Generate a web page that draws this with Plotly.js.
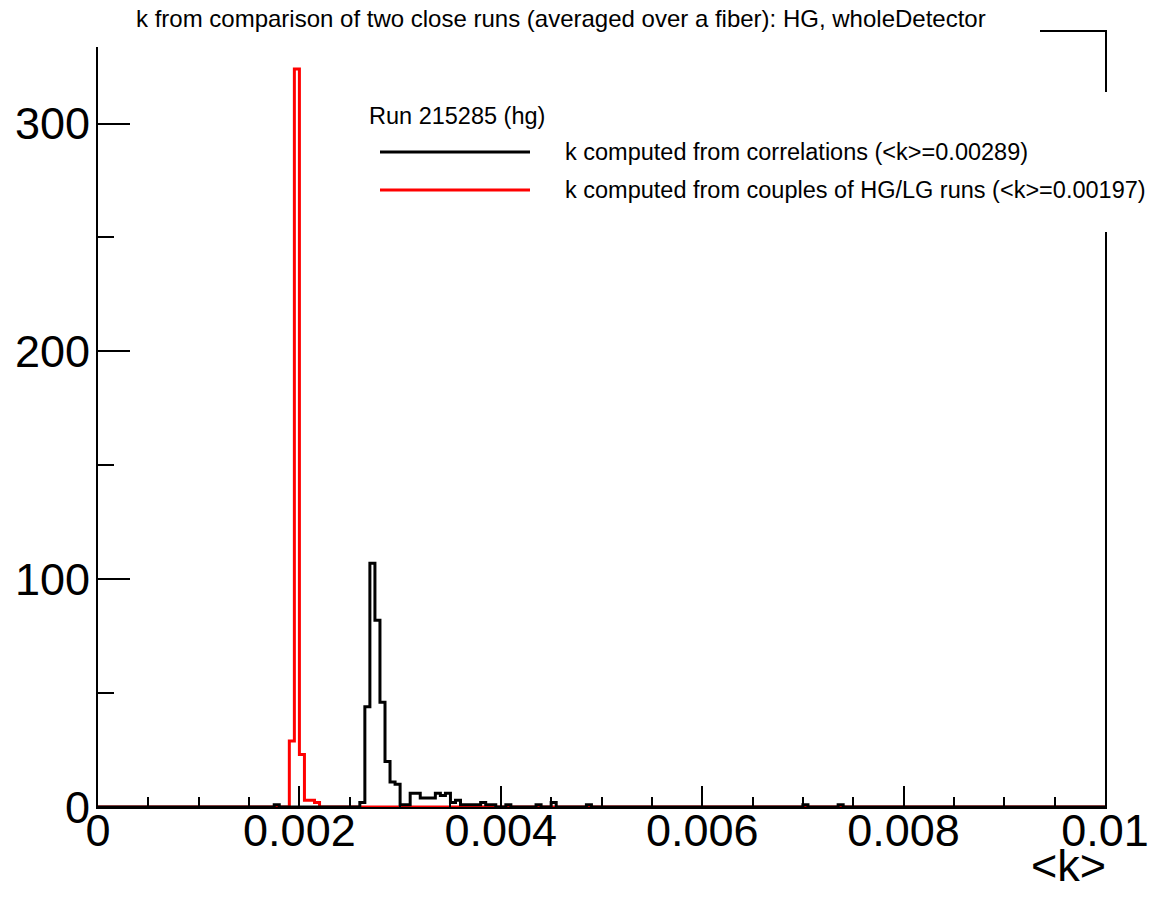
<!DOCTYPE html>
<html><head><meta charset="utf-8">
<script src="https://cdn.plot.ly/plotly-3.0.1.min.js"></script>
<style>html,body{margin:0;padding:0;background:#fff}#chart{width:1156px;height:905px}</style>
</head><body><div id="chart"></div>
<script>
// ---------------- data ----------------
const binWidth = 0.00005;
const nBins = 200;
// "k computed from correlations" (black) : lower bin edges and counts of the non-empty bins
const corrBinLow = [0.00175, 0.0026, 0.00265, 0.0027, 0.00275, 0.0028, 0.00285, 0.0029, 0.00295, 0.003, 0.00305,
  0.0031, 0.00315, 0.0032, 0.00325, 0.0033, 0.00335, 0.0034, 0.00345, 0.0035, 0.00355, 0.0036, 0.00365, 0.0037,
  0.00375, 0.0038, 0.00385, 0.0039, 0.00405, 0.00435, 0.0045, 0.00485, 0.007, 0.00735];
const corrCounts = [1, 2, 44, 107, 82, 46, 20, 11, 10, 1, 1,
  6, 6, 4, 4, 4, 6, 5, 6, 2, 3, 1, 1, 1,
  1, 2, 1, 1, 1, 1, 2, 1, 1, 1];
// "k computed from couples of HG/LG runs" (red)
const couplesBinLow = [0.0019, 0.00195, 0.002, 0.00205, 0.0021, 0.00215];
const couplesCounts = [29, 324, 23, 3, 3, 2];

const xTickVals = [0, 0.002, 0.004, 0.006, 0.008, 0.01];
const xTickText = ['0', '0.002', '0.004', '0.006', '0.008', '0.01'];
const yTickVals = [0, 100, 200, 300];
const yTickText = ['0', '100', '200', '300'];

const titleText = 'k from comparison of two close runs (averaged over a fiber): HG, wholeDetector';
const legendHeader = 'Run 215285 (hg)';
const seriesNames = ['k computed from correlations (&lt;k&gt;=0.00289)',
                     'k computed from couples of HG/LG runs (&lt;k&gt;=0.00197)'];
const xTitle = '&lt;k&gt;';

// ---------------- build ----------------
function buildHist(lows, counts) {
  const y = new Array(nBins).fill(0);
  lows.forEach((lo, i) => { y[Math.round(lo / binWidth)] = counts[i]; });
  const xs = [], ys = [];
  for (let i = 0; i < nBins; i++) { xs.push(i * binWidth); ys.push(y[i]); }
  xs.push(nBins * binWidth); ys.push(y[nBins - 1]);
  return {xs, ys, max: Math.max(...y)};
}
const hCorr = buildHist(corrBinLow, corrCounts);
const hCoup = buildHist(couplesBinLow, couplesCounts);
const yMax = 1.05 * Math.max(hCorr.max, hCoup.max);

const FONT = '"Liberation Sans", Arial, Helvetica, sans-serif';
const L = 98, R = 1105, T = 32, B = 807;
const px2x = p => (p - L) / (R - L);
const py2y = p => (B - p) / (B - T);

const traces = [
  {x: hCoup.xs, y: hCoup.ys, type: 'scatter', mode: 'lines', line: {shape: 'hv', color: '#ff0000', width: 3}, name: seriesNames[1], hoverinfo: 'skip'},
  {x: hCorr.xs, y: hCorr.ys, type: 'scatter', mode: 'lines', line: {shape: 'hv', color: '#000000', width: 3}, name: seriesNames[0], hoverinfo: 'skip'}
];

const axisCommon = {
  showgrid: false, zeroline: false, showline: true, linecolor: '#000', linewidth: 2, mirror: true,
  ticks: 'inside', tickcolor: '#000', tickwidth: 2,
  tickfont: {family: FONT, size: 45, color: '#000'}
};

const layout = {
  width: 1156, height: 905,
  margin: {l: L, r: 1156 - R, t: T, b: 905 - B, pad: 0},
  paper_bgcolor: '#fff', plot_bgcolor: '#fff',
  showlegend: false,
  xaxis: Object.assign({}, axisCommon, {
    range: [0, nBins * binWidth], tickmode: 'array', tickvals: xTickVals, ticktext: xTickText,
    ticklen: 21, ticklabelstandoff: -17,
    minor: {tickmode: 'linear', tick0: 0, dtick: 0.0005, ticks: 'inside', ticklen: 10, tickwidth: 2, tickcolor: '#000', showgrid: false}
  }),
  yaxis: Object.assign({}, axisCommon, {
    range: [0, yMax], tickmode: 'array', tickvals: yTickVals, ticktext: yTickText,
    ticklen: 32, ticklabelstandoff: -3,
    minor: {tickmode: 'linear', tick0: 0, dtick: 50, ticks: 'inside', ticklen: 16, tickwidth: 2, tickcolor: '#000', showgrid: false}
  }),
  shapes: [
    {type: 'rect', xref: 'paper', yref: 'paper', x0: px2x(-5), x1: px2x(1040), y0: py2y(47), y1: py2y(-5), fillcolor: '#fff', line: {width: 0}, layer: 'above'},
    {type: 'rect', xref: 'paper', yref: 'paper', x0: px2x(358), x1: px2x(1160), y0: py2y(232), y1: py2y(92), fillcolor: '#fff', line: {width: 0}, layer: 'above'},
    {type: 'line', xref: 'paper', yref: 'paper', x0: px2x(380), x1: px2x(530), y0: py2y(152), y1: py2y(152), line: {color: '#000', width: 3}, layer: 'above'},
    {type: 'line', xref: 'paper', yref: 'paper', x0: px2x(380), x1: px2x(530), y0: py2y(190), y1: py2y(190), line: {color: '#ff0000', width: 3}, layer: 'above'}
  ],
  annotations: [
    {text: titleText, xref: 'paper', yref: 'paper', x: px2x(561), y: py2y(18), xanchor: 'center', yanchor: 'middle', showarrow: false, font: {family: FONT, size: 24, color: '#000'}},
    {text: legendHeader, xref: 'paper', yref: 'paper', x: px2x(367), y: py2y(115.5), xanchor: 'left', yanchor: 'middle', showarrow: false, font: {family: FONT, size: 23.5, color: '#000'}},
    {text: seriesNames[0], xref: 'paper', yref: 'paper', x: px2x(563), y: py2y(152), xanchor: 'left', yanchor: 'middle', showarrow: false, font: {family: FONT, size: 23.5, color: '#000'}},
    {text: seriesNames[1], xref: 'paper', yref: 'paper', x: px2x(563), y: py2y(190), xanchor: 'left', yanchor: 'middle', showarrow: false, font: {family: FONT, size: 23.5, color: '#000'}},
    {text: xTitle, xref: 'paper', yref: 'paper', x: px2x(1108), y: py2y(865), xanchor: 'right', yanchor: 'middle', showarrow: false, font: {family: FONT, size: 45, color: '#000'}}
  ]
};

Plotly.newPlot('chart', traces, layout, {staticPlot: true, displayModeBar: false});
</script>
</body></html>
